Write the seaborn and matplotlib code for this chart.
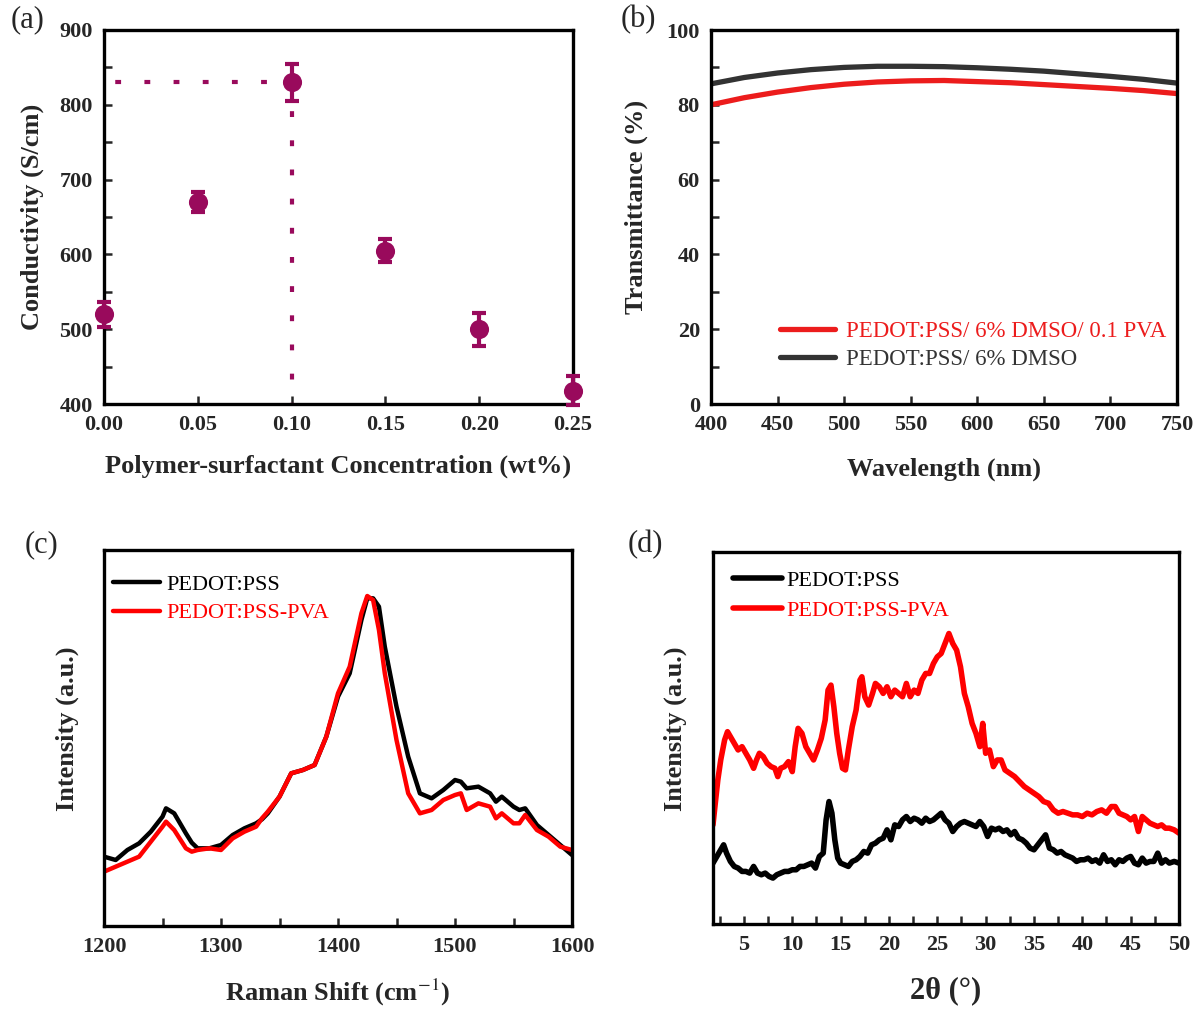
import matplotlib
matplotlib.use("Agg")
import matplotlib.pyplot as plt
import matplotlib.ticker as mticker
import pandas as pd
import seaborn as sns

# (a) conductivity vs polymer-surfactant concentration
conc = [0.00, 0.05, 0.10, 0.15, 0.20, 0.25]
conductivity = [520, 670, 830, 605, 500, 418]
cond_err = [17, 13, 25, 15, 22, 20]

# (b) transmittance spectra
wavelength = [400, 425, 450, 475, 500, 525, 550, 575, 600, 625, 650, 675, 700, 725, 750]
trans_pva = [80.0, 81.9, 83.4, 84.6, 85.5, 86.1, 86.4, 86.5, 86.2, 85.9, 85.4, 84.9, 84.4, 83.8, 83.0]
trans_dmso = [85.6, 87.3, 88.5, 89.4, 90.0, 90.3, 90.3, 90.2, 89.9, 89.5, 89.0, 88.3, 87.6, 86.8, 85.8]

# (c) Raman spectra
raman_shift = [1200, 1210, 1220, 1230, 1240, 1250, 1253, 1260, 1270, 1275, 1280, 1290, 1300,
               1310, 1320, 1330, 1335, 1340, 1350, 1360, 1370, 1380, 1390, 1400, 1410, 1420,
               1425, 1430, 1435, 1440, 1450, 1460, 1470, 1480, 1490, 1500, 1505, 1510, 1520,
               1530, 1535, 1540, 1550, 1555, 1560, 1570, 1580, 1590, 1600]
raman_pedot = [208, 198, 228, 248, 283, 328, 353, 338, 278, 250, 233, 233, 243,
               273, 293, 308, 320, 338, 388, 458, 468, 483, 568, 688, 758, 918,
               983, 983, 958, 838, 658, 508, 398, 383, 408, 438, 433, 413, 418,
               398, 373, 388, 358, 348, 353, 303, 273, 243, 213]
raman_pva = [163, 178, 193, 208, 253, 298, 313, 288, 233, 223, 228, 233, 228,
             263, 283, 298, 323, 343, 388, 458, 468, 483, 568, 698, 778, 938,
             990, 978, 888, 758, 558, 398, 338, 348, 378, 393, 398, 348, 368,
             358, 323, 338, 308, 308, 333, 288, 268, 238, 228]

# (d) XRD patterns
xrd_angle_pedot = [1.8, 2.2, 2.6, 2.9, 3.2, 3.6, 4.0, 4.4, 4.8, 5.2, 5.6, 6.0, 6.4, 6.8, 7.2,
                   7.6, 8.0, 8.4, 8.8, 9.2, 9.6, 10.0, 10.4, 10.8, 11.2, 11.6, 12.0, 12.4,
                   12.8, 13.2, 13.5, 13.8, 14.1, 14.4, 14.7, 15.0, 15.4, 15.8, 16.2, 16.6,
                   17.0, 17.4, 17.8, 18.2, 18.6, 19.0, 19.4, 19.8, 20.2, 20.6, 21.0, 21.4,
                   21.8, 22.2, 22.6, 23.0, 23.4, 23.8, 24.2, 24.6, 25.0, 25.4, 25.8, 26.2,
                   26.6, 27.0, 27.4, 27.8, 28.2, 28.6, 29.0, 29.4, 29.8, 30.2, 30.6, 31.0,
                   31.4, 31.8, 32.2, 32.6, 33.0, 33.4, 33.8, 34.2, 34.6, 35.0, 35.4, 35.8,
                   36.2, 36.6, 37.0, 37.4, 37.8, 38.2, 38.6, 39.0, 39.4, 39.8, 40.2, 40.6,
                   41.0, 41.4, 41.8, 42.2, 42.6, 43.0, 43.4, 43.8, 44.2, 44.6, 45.0, 45.4,
                   45.8, 46.2, 46.6, 47.0, 47.4, 47.8, 48.2, 48.6, 49.0, 49.5, 50.0]
xrd_pedot = [183, 203, 223, 238, 213, 188, 173, 168, 158, 158, 153, 173, 153, 148, 153,
             143, 138, 148, 153, 158, 158, 163, 163, 173, 173, 178, 183, 168,
             203, 213, 313, 368, 333, 253, 198, 183, 178, 173, 188, 193,
             203, 218, 213, 238, 243, 253, 258, 283, 253, 298, 293, 313,
             323, 308, 318, 313, 303, 318, 308, 313, 323, 333, 313, 303,
             278, 293, 303, 308, 303, 298, 293, 308, 293, 263, 288, 283,
             288, 278, 283, 268, 278, 258, 253, 243, 228, 223, 238, 253,
             268, 228, 223, 213, 218, 208, 203, 198, 188, 193, 193, 198,
             188, 193, 183, 208, 188, 193, 178, 193, 188, 198, 203, 183,
             178, 198, 183, 188, 188, 213, 183, 193, 183, 188, 183]
xrd_angle_pva = [1.8, 2.0, 2.3, 2.6, 3.0, 3.3, 3.6, 4.0, 4.4, 4.8, 5.2, 5.6, 6.0, 6.3, 6.6,
                 7.0, 7.4, 7.8, 8.2, 8.5, 8.8, 9.2, 9.6, 10.0, 10.3, 10.6, 11.0, 11.4, 11.8,
                 12.2, 12.6, 13.0, 13.4, 13.7, 14.0, 14.3, 14.6, 14.9, 15.2, 15.5, 15.8,
                 16.2, 16.6, 17.0, 17.2, 17.5, 17.9, 18.3, 18.6, 19.0, 19.4, 19.8, 20.2,
                 20.6, 21.0, 21.4, 21.8, 22.2, 22.6, 23.0, 23.4, 23.8, 24.2, 24.6, 25.0,
                 25.4, 25.8, 26.2, 26.6, 27.0, 27.4, 27.8, 28.2, 28.6, 29.0, 29.4, 29.7,
                 30.0, 30.4, 30.8, 31.2, 31.6, 32.0, 32.5, 33.0, 33.5, 34.0, 34.5, 35.0,
                 35.5, 36.0, 36.5, 37.0, 37.5, 38.0, 38.5, 39.0, 39.5, 40.0, 40.5, 41.0,
                 41.5, 42.0, 42.5, 43.0, 43.4, 43.8, 44.2, 44.6, 45.0, 45.4, 45.8, 46.2,
                 46.6, 47.0, 47.4, 47.8, 48.2, 48.6, 49.0, 49.5, 50.0]
xrd_pva = [298, 353, 433, 493, 553, 578, 563, 543, 523, 533, 513, 493, 468, 493, 513,
           503, 483, 473, 468, 443, 468, 473, 488, 458, 533, 588, 573, 533, 513,
           493, 523, 558, 613, 703, 718, 653, 573, 513, 468, 463, 523,
           593, 643, 733, 743, 683, 658, 693, 723, 713, 693, 713, 683,
           703, 693, 683, 723, 683, 703, 693, 733, 753, 753, 783, 803,
           813, 843, 873, 843, 823, 773, 693, 653, 603, 573, 533, 603,
           513, 523, 473, 493, 493, 463, 453, 443, 428, 413, 403, 393,
           383, 368, 363, 343, 333, 338, 333, 328, 328, 323, 333, 328,
           338, 343, 333, 353, 353, 333, 328, 323, 313, 323, 278, 323,
           313, 303, 298, 293, 298, 288, 288, 283, 273]

sns.set_style("ticks")
plt.rcParams["font.family"] = ["Liberation Serif", "DejaVu Serif"]
plt.rcParams["mathtext.fontset"] = "stix"

RED = "#ec1c1c"
PURPLE = "#990a5c"

fig = plt.figure(figsize=(12.01, 10.13), dpi=100)
W, H = 1201, 1013


def px_axes(left, top, right, bottom):
    return fig.add_axes([left / W, 1 - bottom / H, (right - left) / W, (bottom - top) / H])


def style_axes(ax):
    for sp in ax.spines.values():
        sp.set_linewidth(2.4)
        sp.set_color("black")
    ax.tick_params(which="both", direction="in", width=1.8, top=False, right=False,
                   labelsize=16, pad=8)
    ax.tick_params(which="major", length=6)
    ax.tick_params(which="minor", length=6)
    for lab in ax.get_xticklabels() + ax.get_yticklabels():
        lab.set_fontweight("bold")


label_font = dict(fontsize=19, fontweight="bold")

# ---------- (a) ----------
ax_a = px_axes(104, 30, 573, 404)
# dotted guide lines to the maximum
ax_a.plot([0.0, conc[2]], [conductivity[2], conductivity[2]], color=PURPLE, lw=3,
          linestyle=(4.3, (1.4, 5.6)), dash_capstyle="butt")
ax_a.plot([conc[2], conc[2]], [conductivity[2], 400], color=PURPLE, lw=3,
          linestyle=(0, (1.4, 5.6)), dash_capstyle="butt")
ax_a.errorbar(conc, conductivity, yerr=cond_err, fmt="none", ecolor=PURPLE,
              elinewidth=3, capsize=5, capthick=3, clip_on=False, zorder=3)
sns.scatterplot(x=conc, y=conductivity, ax=ax_a, color=PURPLE, s=190,
                edgecolor=PURPLE, linewidth=0, clip_on=False, zorder=4)
ax_a.set_xlim(0, 0.25)
ax_a.set_ylim(400, 900)
ax_a.xaxis.set_major_locator(mticker.MultipleLocator(0.05))
ax_a.xaxis.set_major_formatter(mticker.FormatStrFormatter("%.2f"))
ax_a.yaxis.set_major_locator(mticker.MultipleLocator(100))
ax_a.yaxis.set_minor_locator(mticker.MultipleLocator(50))
style_axes(ax_a)
ax_a.set_xlabel("Polymer-surfactant Concentration (wt%)", **label_font)
ax_a.set_ylabel("Conductivity (S/cm)", **label_font)
ax_a.xaxis.set_label_coords(0.5, -0.135)
ax_a.yaxis.set_label_coords(-0.128, 0.5)

# ---------- (b) ----------
ax_b = px_axes(711, 30, 1177, 404)
df_b = pd.DataFrame({
    "wavelength": wavelength * 2,
    "T": trans_pva + trans_dmso,
    "sample": ["PEDOT:PSS/ 6% DMSO/ 0.1 PVA"] * len(wavelength) + ["PEDOT:PSS/ 6% DMSO"] * len(wavelength),
})
sns.lineplot(data=df_b, x="wavelength", y="T", hue="sample", ax=ax_b,
             palette=[RED, "#333333"], lw=3.8, legend=False)
ax_b.set_xlim(400, 750)
ax_b.set_ylim(0, 100)
ax_b.xaxis.set_major_locator(mticker.MultipleLocator(50))
ax_b.yaxis.set_major_locator(mticker.MultipleLocator(20))
ax_b.yaxis.set_minor_locator(mticker.MultipleLocator(10))
style_axes(ax_b)
ax_b.set_xlabel("Wavelength (nm)", **label_font)
ax_b.set_ylabel("Transmittance (%)", **label_font)
ax_b.xaxis.set_label_coords(0.5, -0.144)
ax_b.yaxis.set_label_coords(-0.136, 0.527)
ax_b.legend(ax_b.get_lines()[:2], ["PEDOT:PSS/ 6% DMSO/ 0.1 PVA", "PEDOT:PSS/ 6% DMSO"],
            loc="upper left", bbox_to_anchor=(0.149, 0.222), frameon=False,
            borderaxespad=0, borderpad=0, handlelength=2.4, handletextpad=0.45,
            labelspacing=0.3, prop={"size": 16.5}, labelcolor="linecolor")

# ---------- (c) ----------
ax_c = px_axes(104, 550, 572, 926)
sns.lineplot(x=raman_shift, y=raman_pedot, ax=ax_c, color="black", lw=3.2,
             label="PEDOT:PSS", sort=False, estimator=None)
sns.lineplot(x=raman_shift, y=raman_pva, ax=ax_c, color="#ff0000", lw=3.2,
             label="PEDOT:PSS-PVA", sort=False, estimator=None)
ax_c.set_xlim(1200, 1600)
ax_c.set_ylim(0, 1128)
ax_c.xaxis.set_major_locator(mticker.MultipleLocator(100))
ax_c.xaxis.set_minor_locator(mticker.MultipleLocator(50))
ax_c.set_yticks([])
style_axes(ax_c)
ax_c.set_xlabel("Raman Shift (cm$^{-1}$)", **label_font)
ax_c.set_ylabel("Intensity (a.u.)", **label_font)
ax_c.xaxis.set_label_coords(0.5, -0.136)
ax_c.yaxis.set_label_coords(-0.053, 0.524)
ax_c.legend(loc="upper left", bbox_to_anchor=(0.019, 0.935), frameon=False,
            borderaxespad=0, borderpad=0, handlelength=2.1, handletextpad=0.3,
            labelspacing=0.35, prop={"size": 16}, labelcolor="linecolor")

# ---------- (d) ----------
ax_d = px_axes(713, 552, 1179, 924)
sns.lineplot(x=xrd_angle_pedot, y=xrd_pedot, ax=ax_d, color="black", lw=4,
             label="PEDOT:PSS", sort=False, estimator=None)
sns.lineplot(x=xrd_angle_pva, y=xrd_pva, ax=ax_d, color="#ff0000", lw=4,
             label="PEDOT:PSS-PVA", sort=False, estimator=None)
ax_d.set_xlim(1.8, 50)
ax_d.set_ylim(0, 1118)
ax_d.xaxis.set_major_locator(mticker.MultipleLocator(5))
ax_d.xaxis.set_minor_locator(mticker.MultipleLocator(2.5))
ax_d.set_yticks([])
style_axes(ax_d)
ax_d.set_xlabel("2θ (°)", fontsize=22, fontweight="bold")
ax_d.set_ylabel("Intensity (a.u.)", **label_font)
ax_d.xaxis.set_label_coords(0.5, -0.14)
ax_d.yaxis.set_label_coords(-0.056, 0.524)
ax_d.legend(loc="upper left", bbox_to_anchor=(0.043, 0.95), frameon=False,
            borderaxespad=0, borderpad=0, handlelength=2.2, handletextpad=0.2,
            labelspacing=0.4, prop={"size": 16}, labelcolor="linecolor")

for txt, x, y in [("(a)", 28, 20), ("(b)", 638, 20), ("(c)", 42, 545), ("(d)", 645, 545)]:
    fig.text(x / W, 1 - y / H, txt, fontsize=22, ha="center", va="center")

fig.savefig("out.png", dpi=100)
